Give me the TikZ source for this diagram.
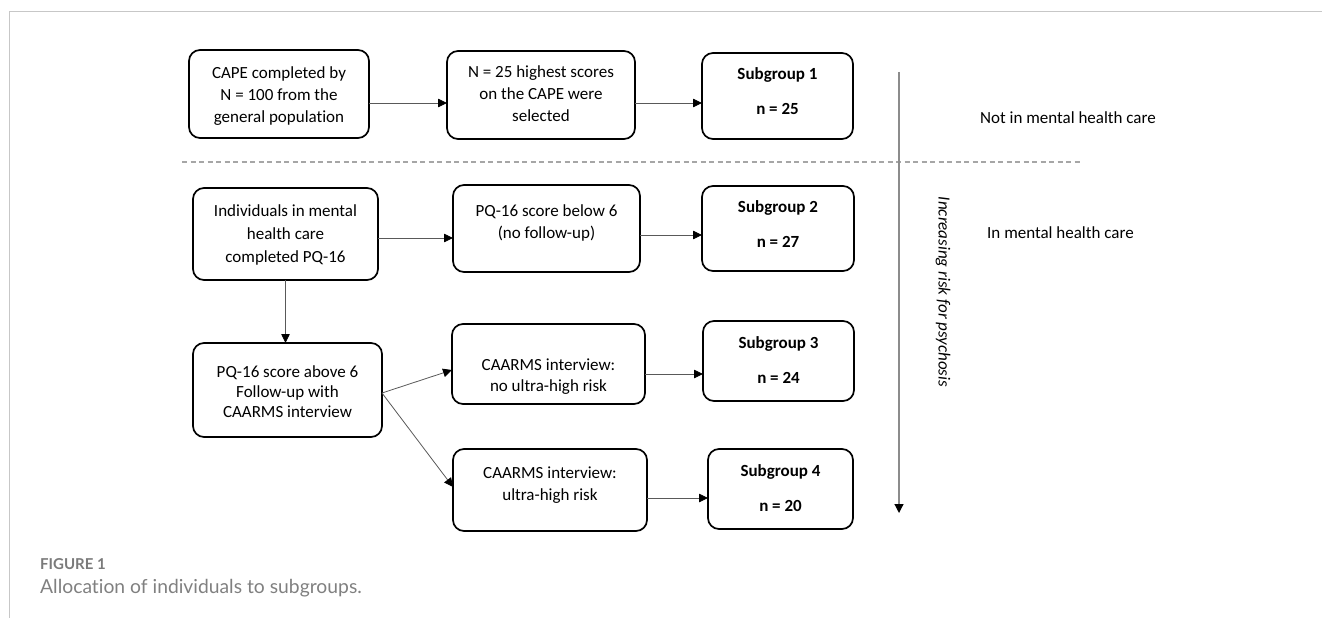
\documentclass[tikz,border=0pt]{standalone}
\usepackage{fontspec}
\setmainfont[Ligatures={NoCommon}]{Carlito}
\newfontfamily\capfont[Ligatures={NoCommon}]{Lato}
\usetikzlibrary{arrows.meta}
\newcommand\bx[5]{\parbox[c][#2pt][t]{#1pt}{\vspace*{#3pt}\centering\fontsize{17}{#4}\selectfont\strut #5\par}}
\begin{document}
\begin{tikzpicture}[x=1pt,y=-1pt,
  box/.style={draw=black, line width=1.7pt, rounded corners=11pt, inner sep=0pt, outer sep=0pt},
  conn/.style={draw=black!65, line width=0.8pt, -{Triangle[length=9pt,width=8.5pt,color=black]}},
  lbl/.style={inner sep=0pt, font=\fontsize{17}{22}\selectfont}]
\useasboundingbox (0,0) rectangle (1322,618);
% frame lines
\draw[black!22, line width=1pt] (9,618) -- (9,12) -- (1322,12);
% dashed separator
\coordinate (d1) at (182,162);
\coordinate (d2) at (1080,162);
\draw[black!35, line width=1.2pt, dash pattern=on 5pt off 3.5pt] (d1) -- (d2);
% boxes
\node[box] (A) at (279,94) {\bx{180}{88}{13.1}{22}{CAPE completed by\\N = 100 from the\\general population}};
\node[box] (B) at (541,95) {\bx{188}{88}{11.1}{22}{N = 25 highest scores\\on the CAPE were\\selected}};
\node[box] (S1) at (777.5,96) {\bx{151}{86}{11.1}{22}{\textbf{Subgroup 1}\\[13pt]\textbf{n = 25}}};
\node[box] (C) at (285.5,234) {\bx{185}{92}{12.1}{23}{Individuals in mental\\health care\\completed PQ-16}};
\node[box] (D) at (546.5,228.5) {\bx{187}{87}{16.1}{22}{PQ-16 score below 6\\(no follow-up)}};
\node[box] (S2) at (778,228.5) {\bx{152}{85}{11.1}{22}{\textbf{Subgroup 2}\\[13pt]\textbf{n = 27}}};
\node[box] (E) at (287.5,390) {\bx{189}{94}{20.1}{20}{PQ-16 score above 6\\Follow-up with\\CAARMS interview}};
\node[box] (F) at (548.5,364) {\bx{193}{80}{32.1}{21}{CAARMS interview:\\no ultra-high risk}};
\node[box] (S3) at (778.5,361) {\bx{151}{80}{12.1}{22}{\textbf{Subgroup 3}\\[13pt]\textbf{n = 24}}};
\node[box] (G) at (550,490) {\bx{194}{82}{14.1}{22}{CAARMS interview:\\ultra-high risk}};
\node[box] (S4) at (780.5,489) {\bx{145}{80}{12.1}{22}{\textbf{Subgroup 4}\\[13pt]\textbf{n = 20}}};
% connectors
\draw[conn] ([yshift=-9pt]A.east) -- ([yshift=-9pt]A.east -| B.west);
\draw[conn] ([yshift=-8pt]B.east) -- ([yshift=-8pt]B.east -| S1.west);
\draw[conn] ([yshift=-4pt]C.east) -- ([yshift=-4pt]C.east -| D.west);
\draw[conn] ([yshift=-6.5pt]D.east) -- ([yshift=-6.5pt]D.east -| S2.west);
\draw[conn] (C.south) -- (C.south |- E.north);
\draw[conn] ([yshift=-3pt]E.east) -- ([yshift=-6pt]F.west);
\draw[conn] ([yshift=-3pt]E.east) -- ([yshift=3pt]G.west);
\draw[conn] ([yshift=-10pt]F.east) -- ([yshift=-10pt]F.east -| S3.west);
\draw[conn] ([yshift=-8pt]G.east) -- ([yshift=-8pt]G.east -| S4.west);
% risk arrow
\coordinate (rt) at (899,72);
\coordinate (rb) at (899,513);
\draw[black!45, line width=1.2pt, -{Triangle[length=9pt,width=9pt,color=black]}] (rt) -- (rb);
\node[lbl, rotate=-90, font=\fontsize{17}{22}\selectfont\itshape] (risk) at (943,292) {Increasing risk for psychosis};
% side labels
\node[lbl, anchor=west] (notin) at (980,118) {Not in mental health care};
\node[lbl, anchor=west] (in) at (987,233) {In mental health care};
% caption
\node[anchor=base west, inner sep=0pt, text=black!52, font=\capfont\bfseries\fontsize{15}{17}\selectfont] (fig) at (40,569) {FIGURE 1};
\node[anchor=base west, inner sep=0pt, text=black!50, font=\capfont\fontsize{19.3}{22}\selectfont] (cap) at (40,593) {Allocation of individuals to subgroups.};
\end{tikzpicture}
\end{document}
